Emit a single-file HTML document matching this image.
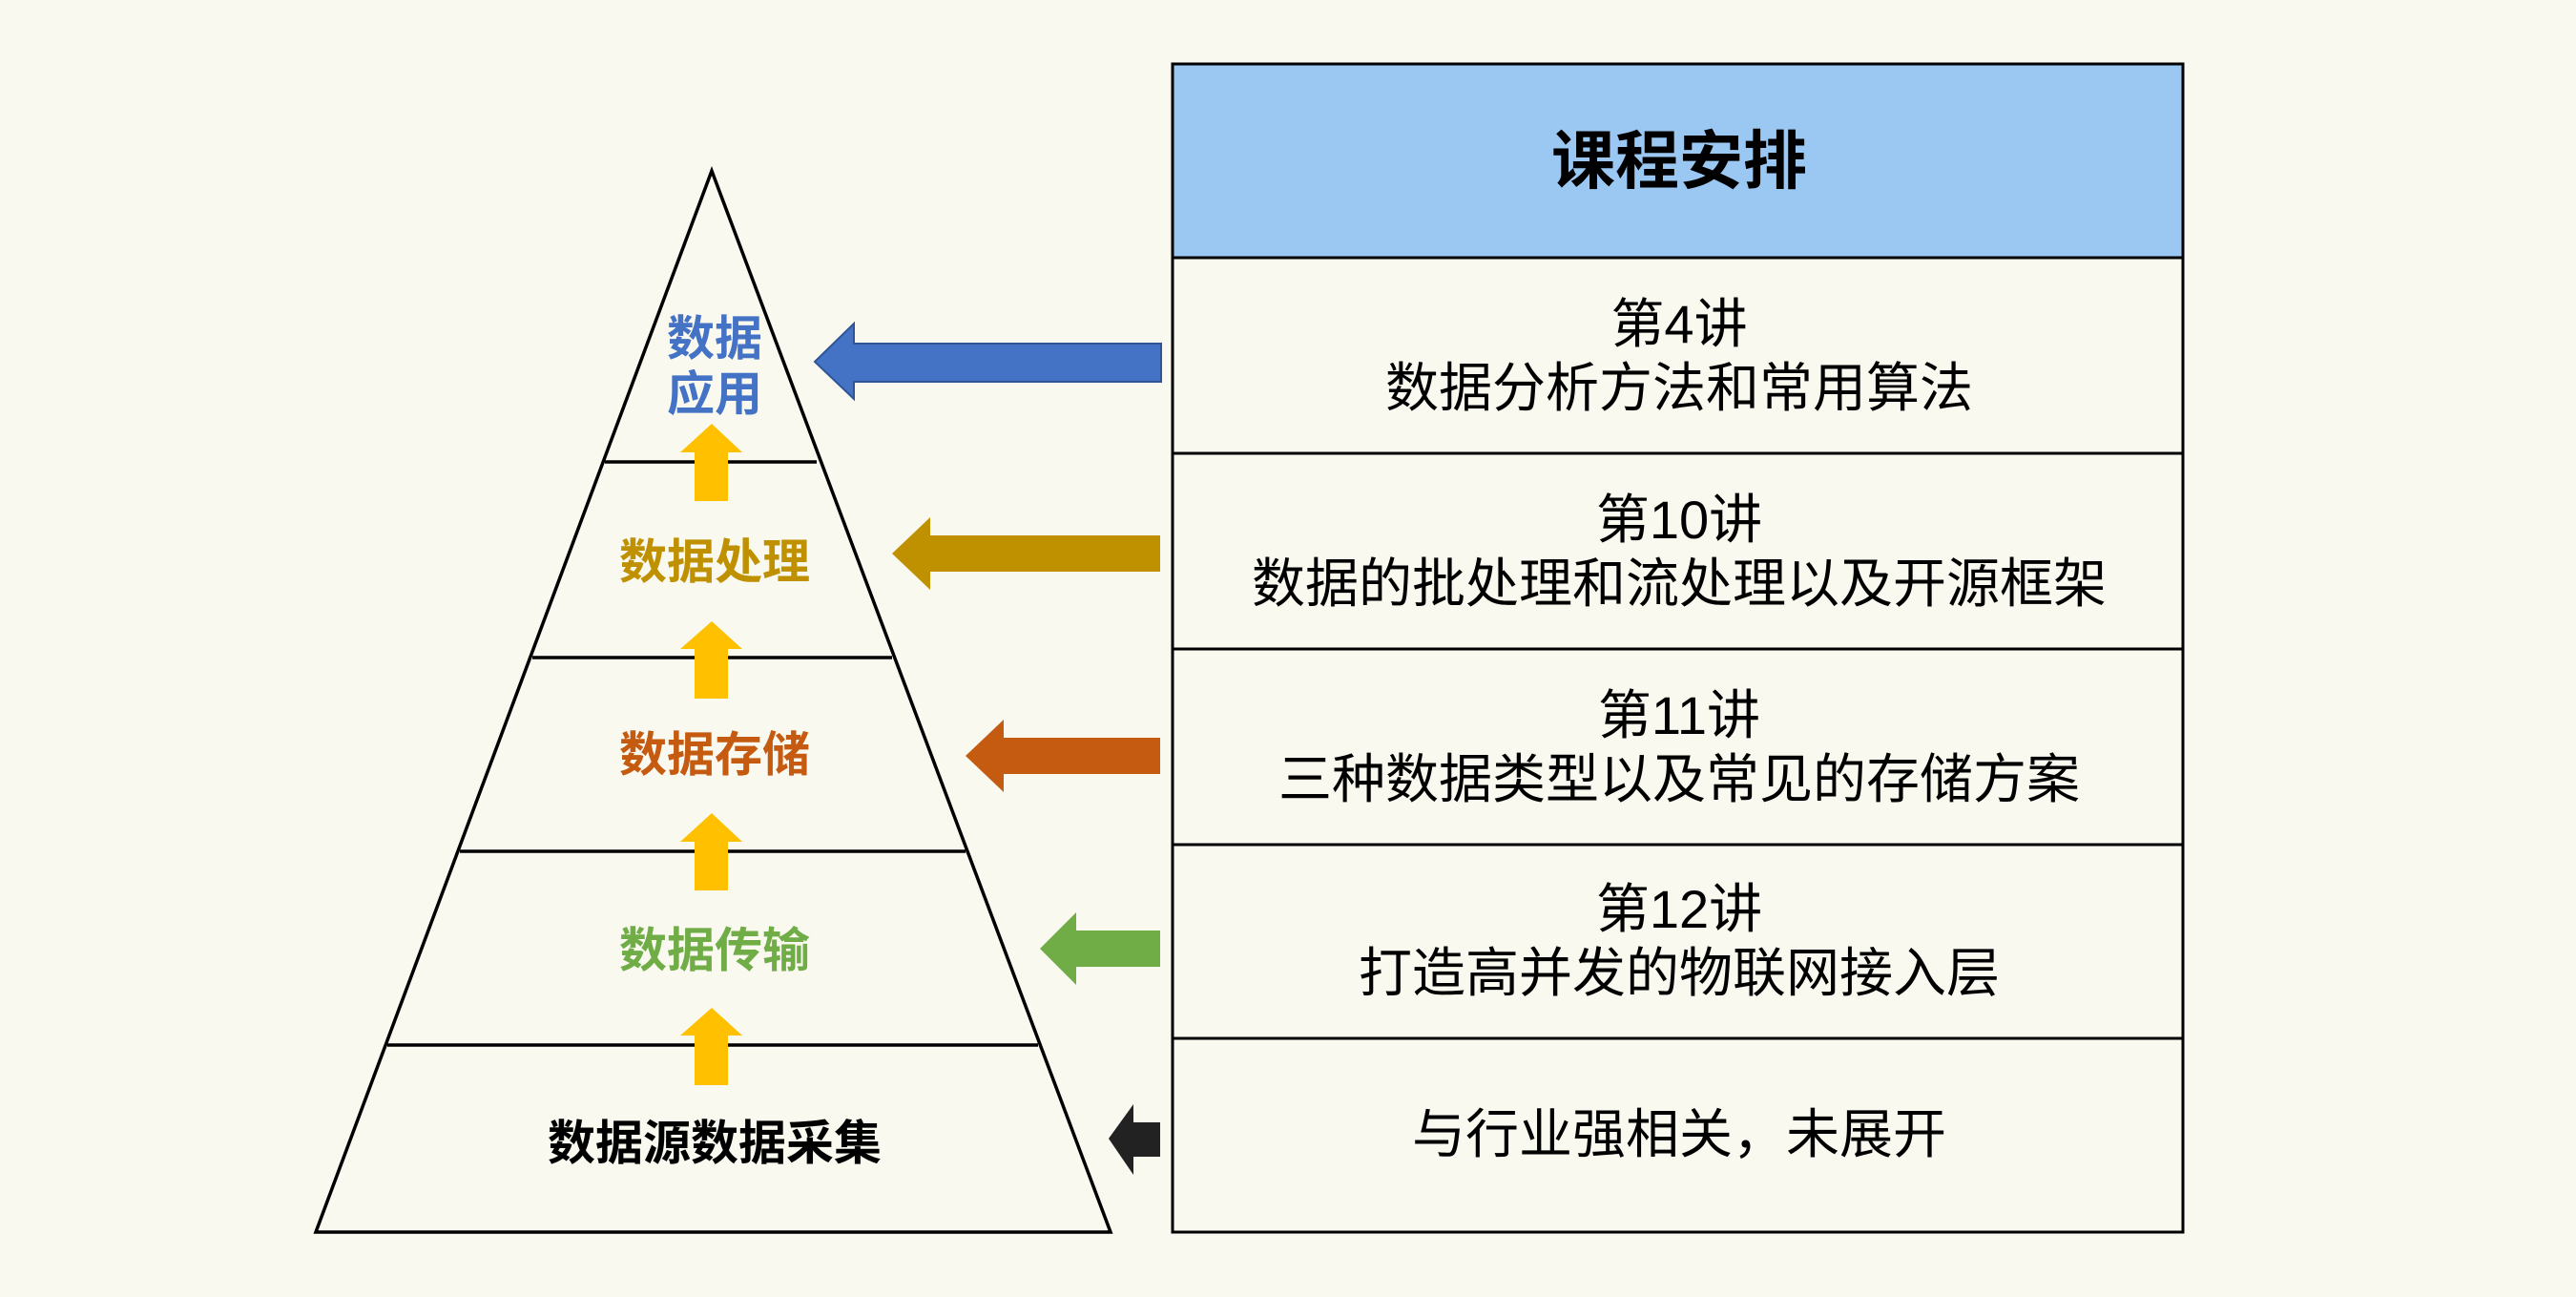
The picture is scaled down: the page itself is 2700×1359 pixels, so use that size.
<!DOCTYPE html>
<html><head><meta charset="utf-8"><style>
html,body{margin:0;padding:0;background:#f9f9ef;}
svg{display:block}
text{font-family:"Liberation Sans","Noto Sans CJK SC",sans-serif;}
</style></head><body>
<svg width="2700" height="1359" viewBox="0 0 2700 1359" xmlns="http://www.w3.org/2000/svg">
<rect width="2700" height="1359" fill="#f9f9ef"/>
<polygon points="746,179 331,1291 1164,1291" fill="none" stroke="#000" stroke-width="3.5"/>
<g stroke="#000" stroke-width="3.5">
<line x1="634" y1="484" x2="856" y2="484"/>
<line x1="558" y1="689" x2="935" y2="689"/>
<line x1="482" y1="892" x2="1012" y2="892"/>
<line x1="406" y1="1095" x2="1088" y2="1095"/>
</g>
<g fill="#ffc000">
<polygon points="746,444 778,474 763,474 763,525 728,525 728,474 713,474"/>
<polygon points="746,651 778,680 763,680 763,732 728,732 728,680 713,680"/>
<polygon points="746,852 778,882 763,882 763,933 728,933 728,882 713,882"/>
<polygon points="746,1056 778,1085 763,1085 763,1137 728,1137 728,1085 713,1085"/>
</g>
<g font-weight="bold" font-size="50" text-anchor="middle">
<text x="749" y="372" fill="#4472c4">数据</text>
<text x="749" y="430" fill="#4472c4">应用</text>
<text x="749" y="606" fill="#bf9000">数据处理</text>
<text x="749" y="808" fill="#c55a11">数据存储</text>
<text x="749" y="1013" fill="#70ad47">数据传输</text>
<text x="749" y="1215" fill="#000">数据源数据采集</text>
</g>
<polygon points="854,379 895,339 895,360 1217,360 1217,400 895,400 895,418" fill="#4472c4" stroke="#2f5597" stroke-width="2"/>
<polygon points="935,580 975,542 975,561 1216,561 1216,599 975,599 975,618" fill="#bf9000"/>
<polygon points="1012,792 1052,754 1052,773 1216,773 1216,811 1052,811 1052,830" fill="#c55a11"/>
<polygon points="1090,994 1128,956 1128,975 1216,975 1216,1013 1128,1013 1128,1032" fill="#70ad47"/>
<polygon points="1162,1193 1188,1157 1188,1176 1216,1176 1216,1212 1188,1212 1188,1231" fill="#222"/>
<rect x="1229" y="67" width="1059" height="203" fill="#9bc8f2"/>
<rect x="1229" y="67" width="1059" height="1224" fill="none" stroke="#000" stroke-width="3"/>
<g stroke="#000" stroke-width="3">
<line x1="1229" y1="270" x2="2288" y2="270"/>
<line x1="1229" y1="475" x2="2288" y2="475"/>
<line x1="1229" y1="680" x2="2288" y2="680"/>
<line x1="1229" y1="885" x2="2288" y2="885"/>
<line x1="1229" y1="1088" x2="2288" y2="1088"/>
</g>
<g text-anchor="middle" font-size="56" fill="#000">
<text x="1760" y="359">第4讲</text>
<text x="1760" y="426">数据分析方法和常用算法</text>
<text x="1760" y="564">第10讲</text>
<text x="1760" y="631">数据的批处理和流处理以及开源框架</text>
<text x="1760" y="769">第11讲</text>
<text x="1760" y="836">三种数据类型以及常见的存储方案</text>
<text x="1760" y="972">第12讲</text>
<text x="1760" y="1039">打造高并发的物联网接入层</text>
<text x="1760" y="1208">与行业强相关，未展开</text>
</g>
<text x="1760" y="192" font-size="67" font-weight="bold" text-anchor="middle">课程安排</text>
</svg>
</body></html>
